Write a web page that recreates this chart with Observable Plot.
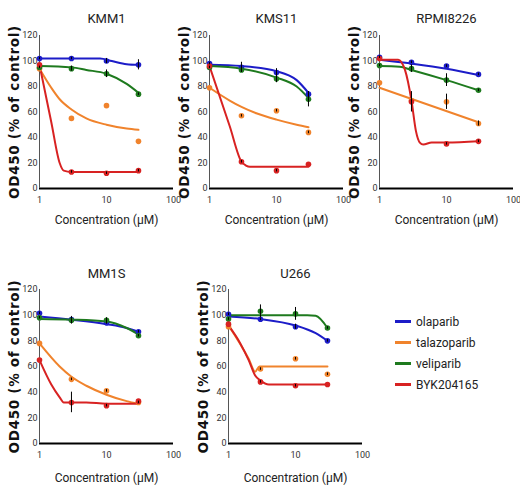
<!DOCTYPE html>
<html><head><meta charset="utf-8">
<script src="https://cdn.jsdelivr.net/npm/d3@7"></script>
<script src="https://cdn.jsdelivr.net/npm/@observablehq/plot@0.6"></script>
<style>
body{margin:0;background:#fff}
#wrap{position:relative;width:520px;height:486px;overflow:hidden;background:#fff}
.panel{position:absolute}
#legend{position:absolute;left:395px;top:311px;font-family:'Liberation Sans Narrow','Arial Narrow',Roboto,'Liberation Sans',sans-serif;font-size:12px;color:#222}
#legend .row{height:21px;display:flex;align-items:center}
#legend .sw{width:16px;height:3px;margin-right:5px;display:inline-block}
</style></head><body><div id="wrap"><div id="legend"></div></div>
<script>
// ---- data ----
const concentrations = [1, 3, 10, 30];
const drugs = ["olaparib", "talazoparib", "veliparib", "BYK204165"];
const drugColors = ["#1c1cc8", "#f0832c", "#1e7a1e", "#d82222"];
const cellLines = ["KMM1", "KMS11", "RPMI8226", "MM1S", "U266"];
const xTicks = [1, 10, 100];
const yTicks = [0, 20, 40, 60, 80, 100, 120];
const xLabel = "Concentration (μM)";
const yLabel = "OD450 (% of control)";

// mean values at concentrations 1, 3, 10, 30
const KMM1_mean = {olaparib:[102,102,100,97], talazoparib:[94,55,65,37], veliparib:[95,94,90,74], BYK204165:[97,13,12,14]};
const KMS11_mean = {olaparib:[98,95,91,74], talazoparib:[79,57,61,44], veliparib:[95,93,86,70], BYK204165:[96,21,14,19]};
const RPMI8226_mean = {olaparib:[103,99,96,89.5], talazoparib:[83,69,68,51], veliparib:[96.5,94,85,77], BYK204165:[102,68,35,37]};
const MM1S_mean = {olaparib:[101.5,96.5,94,87], talazoparib:[78,50,41,32], veliparib:[98,96,96,84], BYK204165:[65,32,29.5,33]};
const U266_mean = {olaparib:[100.7,96.8,91,80], talazoparib:[91,58,66,54], veliparib:[97,103,101,90], BYK204165:[93,48,45,46]};

// error (+/-) at concentrations 1, 3, 10, 30
const KMM1_err = {olaparib:[1,1,2,4], talazoparib:[0,0,0,0], veliparib:[1,2,3,1], BYK204165:[0,1,1,1]};
const KMS11_err = {olaparib:[1,4,3,2], talazoparib:[0,1,1,1], veliparib:[1,2,3,6], BYK204165:[0,1,1,0]};
const RPMI8226_err = {olaparib:[1,1,1,1], talazoparib:[0,1,6,2], veliparib:[1,3,5,1], BYK204165:[0,8,1,1]};
const MM1S_err = {olaparib:[1,1,1,1], talazoparib:[0,1,1,1], veliparib:[1,3,2,1], BYK204165:[0,8,1,0]};
const U266_err = {olaparib:[1,1,2,1], talazoparib:[0,1,1,1], veliparib:[1,5,5,1], BYK204165:[0,1,1,0]};

// fitted curves as [concentration, value]
const KMM1_fit = {
  olaparib:[[1,102],[8,102],[12,100],[20,97.5],[30,97]],
  talazoparib:[[1,94],[1.5,79],[2,70],[3,62],[5,55],[10,50],[20,47],[30,46]],
  veliparib:[[1,96],[3,95],[5,93],[10,90],[20,82],[30,75]],
  BYK204165:[[1,97],[1.5,52],[2,20],[2.3,14],[3,13],[10,13],[30,13]]
};
const KMS11_fit = {
  olaparib:[[1,97],[3,96],[10,92],[20,85],[30,75]],
  talazoparib:[[1,79],[2,69],[3,64],[5,59],[10,54],[20,50],[30,48]],
  veliparib:[[1,96],[3,94],[10,87],[20,80],[30,71]],
  BYK204165:[[1,96],[2,49],[3,21],[3.5,18],[4,17],[30,17]]
};
const RPMI8226_fit = {
  olaparib:[[1,101],[3,98],[10,94],[30,89]],
  talazoparib:[[1,79],[30,52]],
  veliparib:[[1,96],[2,95.5],[3,93],[10,85],[30,77]],
  BYK204165:[[1,101],[1.9,101],[2.4,93],[3,69],[3.5,45],[4,36],[4.5,34.5],[6,36],[10,36],[30,37]]
};
const MM1S_fit = {
  olaparib:[[1,99],[3,96.5],[10,93],[20,90],[30,87]],
  talazoparib:[[1,78],[2,60],[3,52],[5,45],[10,38],[20,33],[30,31]],
  veliparib:[[1,97],[3,96.5],[10,95],[20,90],[30,85]],
  BYK204165:[[1,65],[1.5,46],[2,36],[2.3,32],[5,32],[10,31],[30,31]]
};
const U266_fit = {
  olaparib:[[1,99],[3,97],[10,92],[20,86],[30,80]],
  talazoparib:[[1,92],[2,66],[2.5,56],[2.9,60],[30,60]],
  veliparib:[[1,100],[10,100],[15,100],[20,99.5],[30,90]],
  BYK204165:[[1,92],[1.5,78],[2,65],[2.5,53],[3,49],[4,46],[30,46]]
};

// ---- drawing ----
const NARROW = "'Liberation Sans Narrow','Arial Narrow',Roboto,'Liberation Sans',sans-serif";
const panels = [
  {name:"KMM1", mean:KMM1_mean, err:KMM1_err, fit:KMM1_fit, left:1, top:0, height:230, mb:42, tdy:-17, xdy:32},
  {name:"KMS11", mean:KMS11_mean, err:KMS11_err, fit:KMS11_fit, left:171, top:0, height:230, mb:42, tdy:-17, xdy:32},
  {name:"RPMI8226", mean:RPMI8226_mean, err:RPMI8226_err, fit:RPMI8226_fit, left:341, top:0, height:230, mb:42, tdy:-17, xdy:32},
  {name:"MM1S", mean:MM1S_mean, err:MM1S_err, fit:MM1S_fit, left:1, top:254, height:232, mb:43, tdy:-16, xdy:35},
  {name:"U266", mean:U266_mean, err:U266_err, fit:U266_fit, left:190, top:254, height:232, mb:43, tdy:-16, xdy:35}
];

const wrap = document.getElementById("wrap");
for (const p of panels) {
  const means = [], fits = [];
  for (const d of drugs) {
    p.mean[d].forEach((v, i) => means.push({drug:d, c:concentrations[i], v, e:p.err[d][i]}));
    p.fit[d].forEach(([c, v]) => fits.push({drug:d, c, v}));
  }
  const svg = Plot.plot({
    width:180, height:p.height,
    marginLeft:38, marginRight:8, marginTop:35, marginBottom:p.mb,
    style:{fontFamily:NARROW, fontSize:"9px", color:"#333", background:"transparent", overflow:"visible"},
    x:{type:"log", domain:[1,100]},
    y:{domain:[0,120]},
    color:{domain:drugs, range:drugColors},
    marks:[
      Plot.axisX({ticks:xTicks, tickFormat:d => String(d), tickSize:0, tickPadding:8, label:null}),
      Plot.axisY({ticks:yTicks, tickSize:0, tickPadding:2, label:null}),
      Plot.ruleY([0], {stroke:"#000", strokeWidth:2}),
      Plot.ruleX([1], {stroke:"#555", strokeWidth:1}),
      Plot.line(fits, {x:"c", y:"v", z:"drug", stroke:"drug", curve:"monotone-x", strokeWidth:2}),
      Plot.dot(means, {x:"c", y:"v", fill:"drug", r:2.8}),
      Plot.ruleX(means.filter(d => d.e > 0), {x:"c", y1:d => d.v - d.e, y2:d => d.v + d.e, stroke:"#000", strokeWidth:1}),
      Plot.text([p.name], {frameAnchor:"top", lineAnchor:"middle", dy:p.tdy, fontSize:13, fill:"#222"}),
      Plot.text([xLabel], {frameAnchor:"bottom", lineAnchor:"middle", dy:p.xdy, fontSize:12, fill:"#222"}),
      Plot.text([yLabel], {frameAnchor:"left", textAnchor:"middle", lineAnchor:"middle", rotate:-90, dx:-25, fontSize:13.5, fontWeight:"bold", fontFamily:"DejaVu Sans", fill:"#111"})
    ]
  });
  svg.querySelectorAll("text").forEach(t => {
    if (t.textContent === yLabel) t.style.letterSpacing = "0.7px";
  });
  svg.classList.add("panel");
  svg.style.left = p.left + "px";
  svg.style.top = p.top + "px";
  wrap.appendChild(svg);
}

const legend = document.getElementById("legend");
drugs.forEach((d, i) => {
  const row = document.createElement("div");
  row.className = "row";
  row.innerHTML = `<span class="sw" style="background:${drugColors[i]}"></span><span>${d}</span>`;
  legend.appendChild(row);
});
</script></body></html>
